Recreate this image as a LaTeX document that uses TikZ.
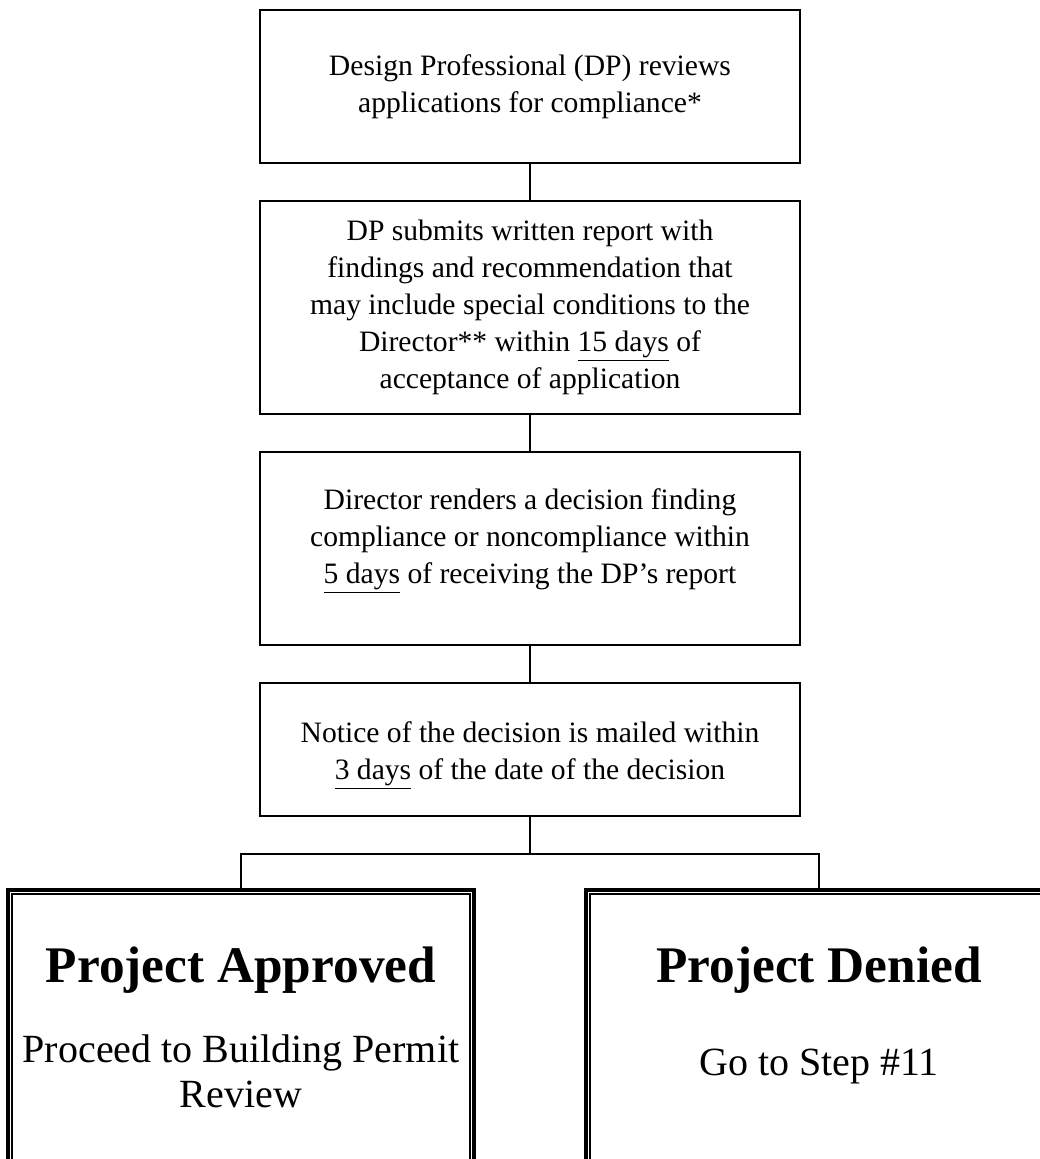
\documentclass[tikz,border=0pt]{standalone}
\usepackage{fontspec}
\setmainfont{Liberation Serif}
\usepackage{tikz}
\usetikzlibrary{positioning,calc}

\begin{document}
\begin{tikzpicture}[node distance=28.5pt,line width=1.8pt,
                    stepbox/.style={rectangle,draw,outer sep=0pt,minimum width=405pt,align=center,
                                    font=\fontsize{22.2}{27.75}\selectfont},
                    outcome/.style={rectangle,draw,outer sep=0pt,line width=3pt,
                                    minimum width=349.5pt,minimum height=225pt},
                    heading/.style={font=\fontsize{38.5}{44}\selectfont\bfseries},
                    result/.style={align=center,font=\fontsize{30}{33.75}\selectfont}]

  \useasboundingbox (-397.5pt,-804.375pt) rectangle (381.75pt,64.875pt);

  \node[stepbox,minimum height=114.75pt] (review) {Design Professional (DP) reviews\\applications for compliance*};
  \node[stepbox,minimum height=159.75pt] (report) [below=of review] {DP submits written report with\\findings and recommendation that\\may include special conditions to the\\Director** within \underline{15 days} of\\acceptance of application};
  \node[stepbox,minimum height=144.75pt,text depth=18pt] (decision) [below=of report] {Director renders a decision finding\\compliance or noncompliance within\\\underline{5 days} of receiving the DP's report};
  \node[stepbox,minimum height=99.75pt,text height=52pt] (notice) [below=of decision] {Notice of the decision is mailed within\\\underline{3 days} of the date of the decision};

  \node[outcome] (approved) [below=55.5pt of notice,xshift=-216.75pt] {};
  \node[outcome] (denied) [below=55.5pt of notice,xshift=216.75pt] {};
  \foreach \n in {approved,denied}
    \draw[line width=1pt] ([shift={(3pt,-3pt)}]\n.north west) rectangle ([shift={(-3pt,3pt)}]\n.south east);

  \node[heading,anchor=base] (approvedtitle) at ($(approved.north)+(0,-69pt)$) {Project Approved};
  \node[result] (approvedtext) at ($(approved.north)+(0,-135.8pt)$) {Proceed to Building Permit\\Review};
  \node[heading,anchor=base] (deniedtitle) at ($(denied.north)+(0,-69pt)$) {Project Denied};
  \node[result,anchor=base] (deniedtext) at ($(denied.north)+(0,-138.75pt)$) {Go to Step \#11};

  \coordinate (fork) at ($(notice.south)+(0,-28.5pt)$);
  \draw (review) -- (report);
  \draw (report) -- (decision);
  \draw (decision) -- (notice);
  \draw (notice) -- (fork);
  \draw (approved.north) |- (fork) -| (denied.north);

\end{tikzpicture}
\end{document}
